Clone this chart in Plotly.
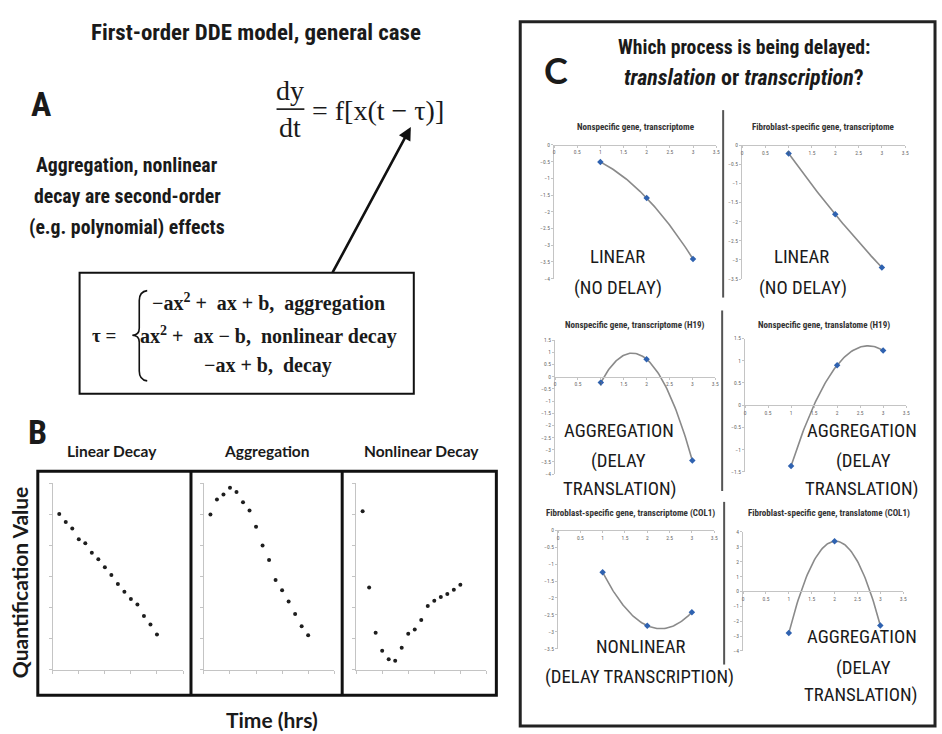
import numpy as np
import plotly.graph_objects as go

W, H = 942, 734

# ---------------- Panel B data ----------------
b_time = [1, 2, 3, 4, 5, 6, 7, 8, 9, 10, 11, 12, 13, 14, 15, 16]
b_linear = [5.00, 4.75, 4.54, 4.19, 4.06, 3.76, 3.55, 3.29, 3.04, 2.75, 2.50, 2.27, 2.09, 1.72, 1.45, 1.13]
b_aggreg = [4.99, 5.47, 5.63, 5.85, 5.71, 5.38, 5.12, 4.59, 3.99, 3.52, 2.88, 2.55, 2.19, 1.79, 1.39, 1.10]
b_nonlin = [5.09, 2.64, 1.18, 0.60, 0.33, 0.28, 0.70, 1.15, 1.29, 1.59, 2.04, 2.21, 2.33, 2.43, 2.57, 2.73]
b_titles = ["Linear Decay", "Aggregation", "Nonlinear Decay"]

# ---------------- Panel C data ----------------
c_x = [1, 2, 3]
c1_y = [-0.51, -1.59, -3.41]
c2_y = [-0.22, -1.81, -3.20]
c3_y = [-0.24, 0.72, -3.44]
c4_y = [-1.37, 0.90, 1.23]
c5_y = [-1.24, -2.82, -2.42]
c6_y = [-2.80, 3.38, -2.29]
c_titles = [
    "Nonspecific gene, transcriptome",
    "Fibroblast-specific gene, transcriptome",
    "Nonspecific gene, transcriptome (H19)",
    "Nonspecific gene, translatome (H19)",
    "Fibroblast-specific gene, transcriptome (COL1)",
    "Fibroblast-specific gene, translatome (COL1)",
]
c_labels = [
    ["LINEAR", "(NO DELAY)"],
    ["LINEAR", "(NO DELAY)"],
    ["AGGREGATION", "(DELAY", "TRANSLATION)"],
    ["AGGREGATION", "(DELAY", "TRANSLATION)"],
    ["NONLINEAR", "(DELAY TRANSCRIPTION)"],
    ["AGGREGATION", "(DELAY", "TRANSLATION)"],
]
c_yranges = [[-4, 0], [-3.5, 0], [-4, 1.5], [-1.5, 1.5], [-3.5, 0], [-4, 4]]
c_ydticks = [0.5, 0.5, 0.5, 0.5, 0.5, 1]

SANS = "Roboto Condensed, Liberation Sans Narrow, Arial Narrow, Liberation Sans, sans-serif"
CALI = "Lato, Open Sans, sans-serif"
SERIF = "Liberation Serif, Times New Roman, serif"


def px(x):
    return x / W


def py(y):
    return 1 - y / H


fig = go.Figure()
layout = dict(width=W, height=H, margin=dict(l=0, r=0, t=0, b=0),
              paper_bgcolor="white", plot_bgcolor="rgba(0,0,0,0)", showlegend=False)

AX_GRAY = "#c4c4c4"

# ---------------- Panel B mini charts ----------------
b_series = [b_linear, b_aggreg, b_nonlin]
b_xdom = [(52, 183), (204, 335), (357, 488)]
b_ydom = (484, 672)
for i, (ys, (x0, x1)) in enumerate(zip(b_series, b_xdom)):
    k = i + 1
    xa = "x" if k == 1 else f"x{k}"
    ya = "y" if k == 1 else f"y{k}"
    layout["xaxis" if k == 1 else f"xaxis{k}"] = dict(
        domain=[px(x0), px(x1)], range=[0, 20], dtick=4, tick0=0, anchor=ya,
        showline=True, linecolor=AX_GRAY, linewidth=1, ticks="outside", ticklen=3,
        tickcolor=AX_GRAY, showticklabels=False, showgrid=False, zeroline=False)
    layout["yaxis" if k == 1 else f"yaxis{k}"] = dict(
        domain=[py(b_ydom[1]), py(b_ydom[0])], range=[0, 6], dtick=1, tick0=0, anchor=xa,
        showline=True, linecolor=AX_GRAY, linewidth=1, ticks="outside", ticklen=3,
        tickcolor=AX_GRAY, showticklabels=False, showgrid=False, zeroline=False)
    fig.add_trace(go.Scatter(x=b_time, y=ys, mode="markers", xaxis=xa, yaxis=ya,
                             marker=dict(size=4, color="#1e1e1e")))

# ---------------- Panel C mini charts ----------------
c_series = [c1_y, c2_y, c3_y, c4_y, c5_y, c6_y]
c_xdom = [(556, 719), (745, 909), (557, 718), (748, 910), (560, 717), (746, 907)]
c_ydom = [(143, 278), (143.3, 278.3), (340, 475), (338.3, 472.7), (531.7, 651), (533.3, 653.3)]
c_title_pos = [(638, 125), (827, 125), (637, 325), (827, 325), (633, 515), (832, 515)]
c_label_pos = [
    [(620, 256), (620, 287)],
    [(805, 256), (806, 287)],
    [(621, 432), (621, 462), (622, 490)],
    [(866, 432), (867, 462), (866, 490)],
    [(643, 649), (642, 680)],
    [(866, 639), (867, 670), (865, 698)],
]
annotations = []
for j, ys in enumerate(c_series):
    k = j + 4
    xa, ya = f"x{k}", f"y{k}"
    x0, x1 = c_xdom[j]
    yt, yb = c_ydom[j]
    r0, r1 = c_yranges[j]
    zero_px = yt + (r1 - 0) / (r1 - r0) * (yb - yt)
    layout[f"xaxis{k}"] = dict(
        domain=[px(x0), px(x1)], range=[0, 3.5], dtick=0.5, tick0=0, anchor="free",
        position=py(zero_px), showline=True, linecolor=AX_GRAY, linewidth=1,
        ticks="outside", ticklen=2, tickcolor=AX_GRAY,
        tickfont=dict(size=5.5, color="#666", family=SANS), showgrid=False, zeroline=False)
    layout[f"yaxis{k}"] = dict(
        domain=[py(yb), py(yt)], range=c_yranges[j], dtick=c_ydticks[j], tick0=0, anchor=xa,
        showline=True, linecolor=AX_GRAY, linewidth=1, ticks="outside", ticklen=2,
        tickcolor=AX_GRAY, tickfont=dict(size=5.5, color="#666", family=SANS),
        showgrid=False, zeroline=False)
    # polynomial (order 2) trendline fitted to the three points, as in the source chart
    coef = np.polyfit(c_x, ys, 2)
    xs = np.linspace(min(c_x), max(c_x), 80)
    fig.add_trace(go.Scatter(x=xs, y=np.polyval(coef, xs), mode="lines", xaxis=xa, yaxis=ya,
                             line=dict(color="#8a8a8a", width=1.6)))
    fig.add_trace(go.Scatter(x=c_x, y=ys, mode="markers", xaxis=xa, yaxis=ya,
                             marker=dict(size=5, symbol="diamond", color="#2f62b0")))
    tx, ty = c_title_pos[j]
    annotations.append(dict(x=px(tx), y=py(ty), text=f"<b>{c_titles[j]}</b>",
                            font=dict(size=9, color="#333", family=SANS)))
    for lab, (lx, ly) in zip(c_labels[j], c_label_pos[j]):
        annotations.append(dict(x=px(lx), y=py(ly), text=lab,
                                font=dict(size=18.7, color="#1a1a1a", family=SANS)))


# ---------------- Texts ----------------
def txt(x, y, text, size, family=SANS, color="#1a1a1a", xanchor="center", textangle=0):
    annotations.append(dict(x=px(x), y=py(y), text=text, xanchor=xanchor, textangle=textangle,
                            font=dict(size=size, color=color, family=family)))


# Panel A
txt(256, 30, "<b>First-order DDE model, general case</b>", 22.9)
txt(40, 102, "<b>A</b>", 34)
txt(291, 88, "dy", 28, SERIF)
txt(291, 126, "dt", 28, SERIF)
txt(311, 108, "= f[x(t \u2212 \u03c4)]", 28, SERIF, xanchor="left")
txt(127, 164, "<b>Aggregation, nonlinear</b>", 19.8)
txt(127, 195, "<b>decay are second-order</b>", 19.8)
txt(127, 226, "<b>(e.g. polynomial) effects</b>", 19.8)
txt(104, 335, "<b>\u03c4 =</b>", 19, SERIF)
txt(269, 302, "<b>\u2212ax<sup>2</sup> +\u00a0 ax + b,\u00a0 aggregation</b>", 20, SERIF)
txt(269, 335, "<b>ax<sup>2</sup> +\u00a0 ax \u2212 b,\u00a0 nonlinear decay</b>", 20, SERIF)
txt(268, 365, "<b>\u2212ax + b,\u00a0 decay</b>", 20, SERIF)

# Panel B
txt(37, 433, "<b>B</b>", 34)
for t, cx in zip(b_titles, [112, 267, 423]):
    txt(cx, 452, f"<b>{t}</b>", 15.5, CALI)
txt(18, 584, "<b>Quantification Value</b>", 21, CALI, textangle=-90)
txt(272, 722, "<b>Time (hrs)</b>", 21, CALI)

# Panel C
txt(558, 68, "<b>C</b>", 36, CALI)
txt(747, 45, "<b>Which process is being delayed:</b>", 19.7)
txt(747, 75, "<b><i>translation</i> or <i>transcription</i>?</b>", 22)

for a in annotations:
    a.setdefault("xref", "paper")
    a.setdefault("yref", "paper")
    a.setdefault("showarrow", False)
    a.setdefault("xanchor", "center")
    a.setdefault("yanchor", "middle")

# arrow from formula box to tau
annotations.append(dict(x=px(412), y=py(125), ax=333 - 412, ay=272 - 125, xref="paper", yref="paper",
                        axref="pixel", ayref="pixel", text="", showarrow=True, arrowhead=2,
                        arrowsize=1, arrowwidth=2.6, arrowcolor="#111"))

# ---------------- Shapes ----------------
shapes = []


def rect(x0, y0, x1, y1, w, color="#111"):
    shapes.append(dict(type="rect", xref="paper", yref="paper", x0=px(x0), x1=px(x1),
                       y0=py(y1), y1=py(y0), line=dict(color=color, width=w),
                       fillcolor="rgba(0,0,0,0)"))


def seg(x0, y0, x1, y1, w, color="#111"):
    shapes.append(dict(type="line", xref="paper", yref="paper", x0=px(x0), x1=px(x1),
                       y0=py(y0), y1=py(y1), line=dict(color=color, width=w)))


rect(79, 272, 415, 394, 2)
rect(37, 472, 498, 698, 3)
seg(191, 472, 191, 698, 3)
seg(343, 472, 343, 698, 3)
rect(522, 19, 939, 729, 3, "#222")
seg(726, 108, 726, 297, 2, "#555")
seg(725, 310, 725, 492, 2, "#555")
seg(727, 503, 727, 667, 2, "#555")
# fraction bar of dy/dt
seg(277, 107, 305, 107, 1.6)

# curly brace of the piecewise definition
path = (f"M {px(147)},{py(290)} Q {px(139)},{py(291)} {px(139)},{py(300)} "
        f"L {px(139)},{py(328)} Q {px(139)},{py(335)} {px(132)},{py(335)} "
        f"Q {px(139)},{py(335)} {px(139)},{py(342)} "
        f"L {px(139)},{py(371)} Q {px(139)},{py(380)} {px(147)},{py(381)}")
shapes.append(dict(type="path", xref="paper", yref="paper", path=path,
                   line=dict(color="#111", width=1.6)))

layout["annotations"] = annotations
layout["shapes"] = shapes
fig.update_layout(**layout)
fig.write_html("out.html")
